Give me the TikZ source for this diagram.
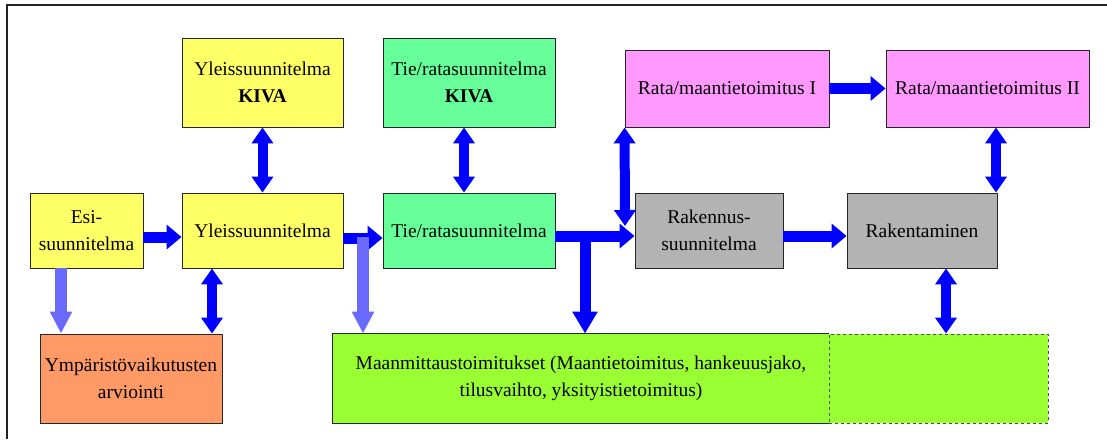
\documentclass[tikz,border=0pt]{standalone}
\usepackage{fontspec}
\setmainfont{Liberation Serif}[BoldFont={Liberation Serif Bold}]
\usetikzlibrary{arrows.meta}
\definecolor{yel}{HTML}{FFFF66}
\definecolor{kgreen}{HTML}{66FF99}
\definecolor{pink}{HTML}{FF99FF}
\definecolor{gry}{HTML}{B3B3B3}
\definecolor{orng}{HTML}{FF9966}
\definecolor{lgreen}{HTML}{99FF33}
\definecolor{liteblue}{HTML}{6A6AFF}
\definecolor{frame}{HTML}{222222}
\begin{document}
\begin{tikzpicture}[x=1pt,y=-1pt,
  box/.style={draw=black!85, line width=0.9pt, inner sep=0pt, align=center,
    font=\rmfamily\fontsize{19.5}{27}\selectfont, text=black},
  blu/.style={draw=blue, line width=11pt, -{Triangle[width=24pt,length=15pt]}},
  dbl/.style={draw=blue, line width=10pt,
    {Triangle[width=21pt,length=16pt]}-{Triangle[width=21pt,length=16pt]}},
  lite/.style={draw=liteblue, line width=12pt, -{Triangle[width=21pt,length=22pt]}}]
\useasboundingbox (0,0) rectangle (1107,439);
% frame
\draw[frame, line width=1.3pt] (7,439) -- (7,5) -- (1107,5);

% boxes
\node[box, fill=yel, minimum width=161pt, minimum height=89pt] (yleisK) at (262.5,82.5) {Yleissuunnitelma\\\textbf{KIVA}};
\node[box, fill=kgreen, minimum width=172pt, minimum height=89pt] (tieK) at (469,82.5) {Tie/ratasuunnitelma\\\textbf{KIVA}};
\node[box, fill=pink, minimum width=204pt, minimum height=77pt] (rata1) at (727,88.5) {Rata/maantietoimitus I};
\node[box, fill=pink, minimum width=203pt, minimum height=77pt] (rata2) at (987.5,88.5) {Rata/maantietoimitus II};
\node[box, fill=yel, minimum width=113pt, minimum height=75pt] (esi) at (86.5,230.5) {Esi-\\suunnitelma};
\node[box, fill=yel, minimum width=161pt, minimum height=75pt] (yleis) at (262.5,230.5) {Yleissuunnitelma};
\node[box, fill=kgreen, minimum width=172pt, minimum height=75pt] (tie) at (469,230.5) {Tie/ratasuunnitelma};
\node[box, fill=gry, minimum width=148pt, minimum height=75pt] (rak) at (709,230.5) {Rakennus-\\suunnitelma};
\node[box, fill=gry, minimum width=150pt, minimum height=75pt] (rakt) at (922,230.5) {Rakentaminen};
\node[box, fill=orng, minimum width=182pt, minimum height=89pt] (ymp) at (131,378.5) {Ympäristövaikutusten\\arviointi};
\node[box, fill=lgreen, draw=black!70, dashed, line width=0.9pt, minimum width=219pt, minimum height=89pt] (maa2) at (938.5,378.5) {};
\node[box, fill=lgreen, draw=none, minimum width=496pt, minimum height=89pt] (maa) at (581,378.5) {Maanmittaustoimitukset (Maantietoimitus, hankeuusjako,\\tilusvaihto, yksityistietoimitus)};
\draw[black!85, line width=0.9pt] (maa.north east) -- (maa.north west) -- (maa.south west) -- (maa.south east);

% helper coordinates
\coordinate (xa) at (61,0);
\coordinate (xb) at (212,0);
\coordinate (xc) at (363,237);
\coordinate (xd) at (585,236);
\coordinate (xe) at (625,226);
\coordinate (xf) at (996,0);
\coordinate (xg) at (946,0);
\coordinate (xh) at (464,0);

% dashed light arrows
\draw[lite] (esi.south -| xa) -- (ymp.north -| xa);

% horizontal arrows
\draw[blu] ([yshift=-6.5pt]esi.east) -- ([yshift=-6.5pt]yleis.west);
\draw[blu] ([yshift=-7.5pt]yleis.east) -- ([yshift=-7.5pt]tie.west);
\draw[lite] (xc) -- (maa.north -| xc);
\draw[blu] ([yshift=-5.5pt]tie.east) -- ([yshift=-5.5pt]rak.west);
\draw[blu] ([yshift=-5.5pt]rak.east) -- ([yshift=-5.5pt]rakt.west);
\draw[blu] (rata1.east) -- (rata2.west);
\draw[draw=blue, line width=11pt, -{Triangle[width=24pt,length=22pt]}] (xd) -- (maa.north -| xd);

% double arrows
\draw[dbl] (yleisK.south) -- (yleis.north);
\draw[dbl] (tieK.south -| xh) -- (tie.north -| xh);
\draw[dbl] (rata1.south west) -- (xe);
\draw[dbl] (rata2.south -| xf) -- (rakt.north -| xf);
\draw[dbl] (yleis.south -| xb) -- (ymp.north -| xb);
\draw[dbl] (rakt.south -| xg) -- (maa2.north -| xg);
\end{tikzpicture}
\end{document}
